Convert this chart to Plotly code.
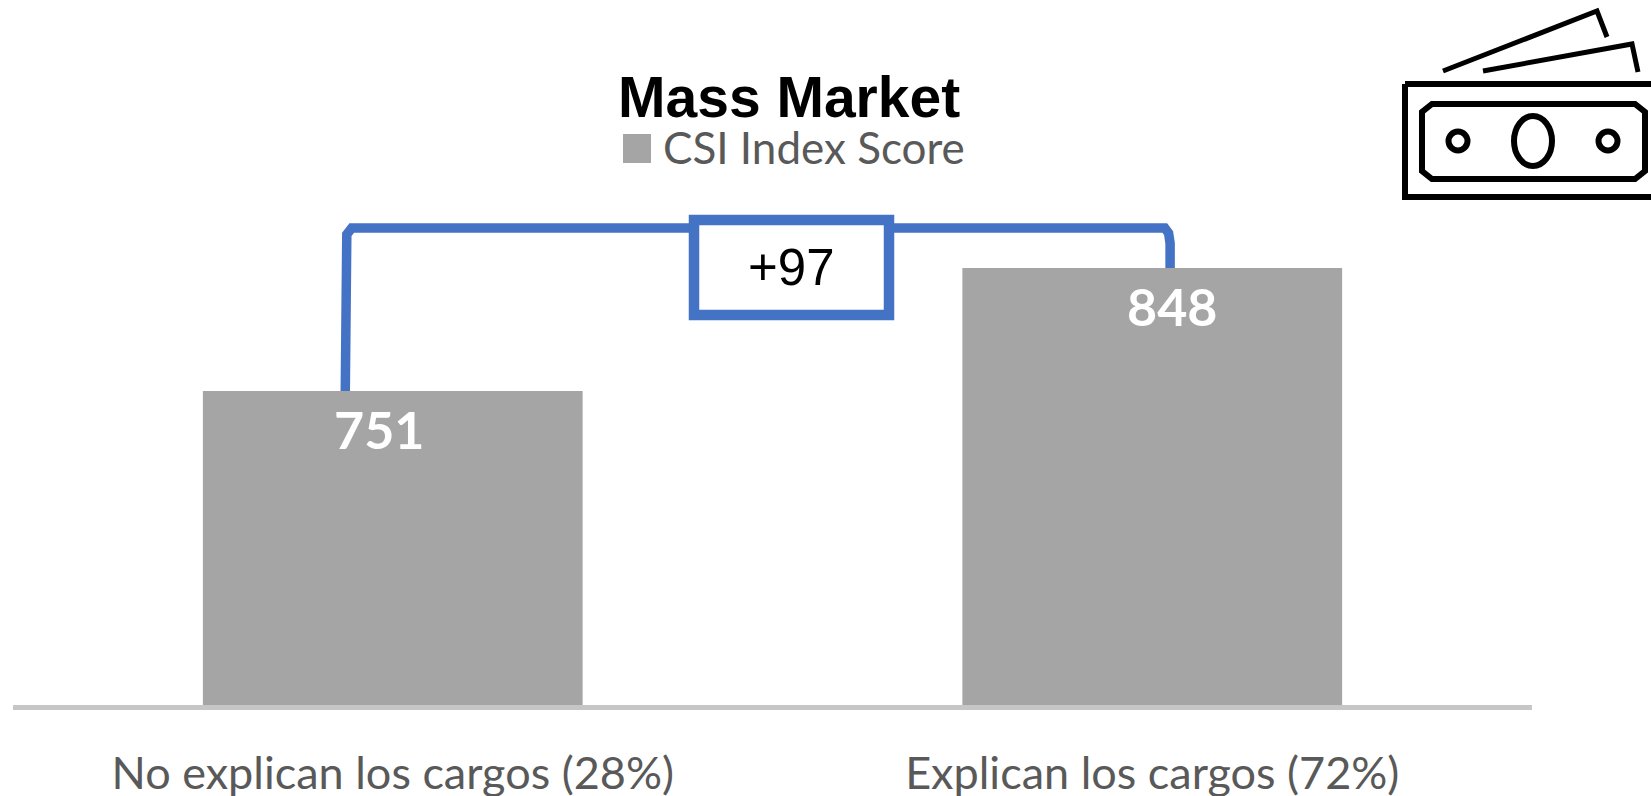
import plotly.graph_objects as go

W, H = 1651, 796
ML, MR, MT, MB = 13, 119, 10, 91
PW, PH = W - ML - MR, H - MT - MB

categories = ["No explican los cargos (28%)", "Explican los cargos (72%)"]
positions = [0, 1]
series_name = "CSI Index Score"
values = [751, 848]
difference_label = "+97"
title_text = "Mass Market"
Y_MIN, Y_MAX = 503.4, 1051.5

GREY = "#a5a5a5"
BLUE = "#4472c4"
TEXT = "#595959"
BRACKET_TOP = 879.6


def px(x):
    return (x - ML) / PW


def py(y):
    return 1 - (y - MT) / PH


fig = go.Figure()
fig.add_bar(x=positions, y=values, width=0.5, name=series_name,
            marker=dict(color=GREY, line=dict(width=0)), showlegend=False, hoverinfo="x+y")

# bracket anchored on the bar tops
fig.add_scatter(
    x=[-0.0625, -0.0625, -0.0605, -0.054, 0.5, 1.0165, 1.0215, 1.0235, 1.0235],
    y=[values[0], BRACKET_TOP - 14, BRACKET_TOP - 5, BRACKET_TOP, BRACKET_TOP,
       BRACKET_TOP, BRACKET_TOP - 4, BRACKET_TOP - 12, values[1]],
    mode="lines", line=dict(color=BLUE, width=9.5, shape="linear"),
    showlegend=False, hoverinfo="skip", cliponaxis=False)

shapes = []


def rect(x0, y0, x1, y1, **kw):
    shapes.append(dict(type="rect", xref="paper", yref="paper", x0=px(x0), x1=px(x1),
                       y0=py(y1), y1=py(y0), **kw))


def path(points, close=False, width=5):
    d = "M " + " L ".join(f"{px(a):.5f},{py(b):.5f}" for a, b in points) + (" Z" if close else "")
    shapes.append(dict(type="path", xref="paper", yref="paper", path=d,
                       line=dict(color="black", width=width)))


def ellipse(cx, cy, rx, ry, width=5):
    shapes.append(dict(type="circle", xref="paper", yref="paper",
                       x0=px(cx - rx), x1=px(cx + rx), y0=py(cy + ry), y1=py(cy - ry),
                       line=dict(color="black", width=width)))


# +97 box
rect(694, 220, 889, 315, line=dict(color=BLUE, width=10.5), fillcolor="white")
# legend key
rect(623, 134, 651, 163, line=dict(width=0), fillcolor=GREY)
# banknote icon
path([(1405, 84), (1660, 84)], width=6)
path([(1405, 84), (1405, 197), (1660, 197)], width=6)
path([(1432, 104), (1635, 104), (1645, 112), (1645, 171), (1635, 179), (1432, 179),
      (1422, 171), (1422, 112)], close=True, width=6)
ellipse(1458, 141, 9.5, 9.5, width=6)
ellipse(1608, 141, 9.5, 9.5, width=6)
ellipse(1533, 141, 19, 25, width=6)
path([(1443, 71), (1597, 11), (1607, 37)], width=5)
path([(1483, 71), (1632, 44), (1638, 72)], width=5)

annotations = [
    dict(xref="paper", yref="paper", x=px(789), y=py(97), text=f"<b>{title_text}</b>",
         showarrow=False, xanchor="center", yanchor="middle",
         font=dict(family="Liberation Sans", size=57, color="black")),
    dict(xref="paper", yref="paper", x=px(661), y=py(147), text=series_name, showarrow=False,
         xanchor="left", yanchor="middle", font=dict(family="Lato", size=44, color=TEXT)),
    dict(xref="paper", yref="paper", x=px(791), y=py(267), text=difference_label, showarrow=False,
         xanchor="center", yanchor="middle",
         font=dict(family="Liberation Sans", size=51, color="black")),
]
for pos, val, shift in zip(positions, values, [-14, 20]):
    annotations.append(dict(x=pos, y=val, text=f"<b>{val}</b>", showarrow=False, xanchor="center",
                            yanchor="middle", xshift=shift, yshift=-38,
                            font=dict(family="Lato", size=52, color="white")))

fig.update_layout(
    width=W, height=H, margin=dict(l=ML, r=MR, t=MT, b=MB, pad=0),
    paper_bgcolor="white", plot_bgcolor="white", showlegend=False,
    shapes=shapes, annotations=annotations,
    xaxis=dict(range=[-0.5, 1.5], tickmode="array", tickvals=positions, ticktext=categories,
               showgrid=False, zeroline=False, showline=True, linecolor="#c6c6c6", linewidth=5,
               ticks="", ticklabelstandoff=25, automargin=False,
               tickfont=dict(family="Lato", size=45, color=TEXT)),
    yaxis=dict(range=[Y_MIN, Y_MAX], visible=False, automargin=False),
)

fig.write_html("out.html", config=dict(displayModeBar=False),
               post_script="document.body.style.margin='0';document.body.style.overflow='hidden';")
